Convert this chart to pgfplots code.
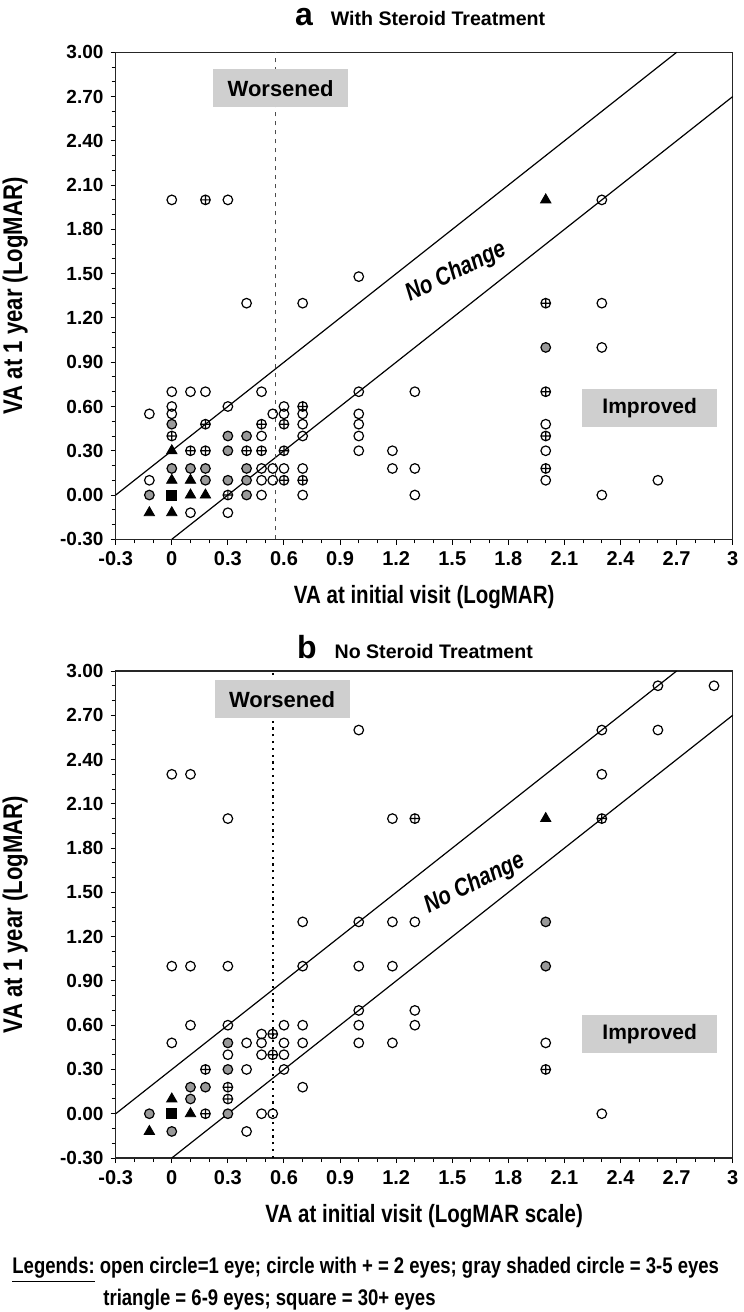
\documentclass[border=0pt]{standalone}
\usepackage{fontspec}
\setmainfont{Liberation Sans}
\setsansfont{Liberation Sans}
\newfontfamily\narrowfont[FakeStretch=0.82]{Liberation Sans}
\usepackage{pgfplots}
\pgfplotsset{compat=1.18}

\definecolor{shade}{HTML}{999999}
\definecolor{boxgray}{HTML}{CFCFCF}

\tikzset{region/.style={fill=boxgray, inner sep=0pt, minimum width=67.5pt, minimum height=19pt}}

\pgfplotsset{
  vaplot/.style={
    scale only axis, width=308.5pt, height=243.5pt,
    anchor=north west, clip=false,
    xmin=-0.3, xmax=3, ymin=-0.3, ymax=3,
    xtick={-0.3,0,0.3,0.6,0.9,1.2,1.5,1.8,2.1,2.4,2.7,3},
    xticklabels={-0.3,0,0.3,0.6,0.9,1.2,1.5,1.8,2.1,2.4,2.7,3},
    ytick={-0.3,0,0.3,0.6,0.9,1.2,1.5,1.8,2.1,2.4,2.7,3},
    yticklabels={-0.30,0.00,0.30,0.60,0.90,1.20,1.50,1.80,2.10,2.40,2.70,3.00},
    minor tick num=2,
    tick align=outside, xtick pos=bottom, ytick pos=left,
    major tick length=2.6pt, minor tick length=2pt,
    tick style={black, line width=0.5pt},
    axis line style={black!85, line width=0.6pt},
    /pgf/number format/assume math mode=true,
    xticklabel style={font=\bfseries\fontsize{10}{10}\selectfont},
    yticklabel style={font=\bfseries\fontsize{9.5}{9.5}\selectfont},
    xlabel style={at={(axis description cs:0.5,-0.1185)}, anchor=center,
      font=\narrowfont\bfseries\fontsize{12.5}{12.5}\selectfont},
    ylabel style={at={(axis description cs:-0.163,0.5)}, anchor=center,
      font=\narrowfont\bfseries\fontsize{13.5}{13.5}\selectfont},
    ylabel={VA at 1 year (LogMAR)},
  },
  one/.style={only marks, mark=o, mark size=2.4pt, mark options={black, line width=0.6pt}},
  two/.style={only marks, mark=oplus, mark size=2.4pt, mark options={black, line width=0.6pt}},
  three/.style={only marks, mark=*, mark size=2.4pt, mark options={draw=black, fill=shade, line width=0.6pt}},
  six/.style={only marks, mark=triangle*, mark size=3pt, mark options={black, line width=0.4pt}},
  thirty/.style={only marks, mark=square*, mark size=2.5pt, mark options={black}},
  diag/.style={black, line width=0.6pt},
}

\begin{document}
\begin{tikzpicture}
\useasboundingbox (0,0) rectangle (372pt,-656pt);

% ---- a: with steroid treatment ----
\node[anchor=base west] at (144pt,-12.5pt)
  {{\fontsize{16}{16}\selectfont\bfseries a}\hspace{9pt}{\fontsize{9.8}{9.8}\selectfont\bfseries With Steroid Treatment}};
\begin{axis}[vaplot, at={(57.85pt,-26.15pt)}, xlabel={VA at initial visit (LogMAR)}]
\addplot[diag] coordinates {(-0.3,0) (2.7,3)};
\addplot[diag] coordinates {(0,-0.3) (3,2.7)};
\addplot[black!70, line width=0.5pt, dash pattern=on 2pt off 2.5pt] coordinates {(0.556,-0.3) (0.556,3)};
\node[region, font=\bfseries\fontsize{11}{11}\selectfont] at (axis cs:0.582,2.755) {Worsened};
\node[region, font=\bfseries\fontsize{10.5}{10.5}\selectfont] at (axis cs:2.556,0.588) {Improved};
\node[rotate=26, font=\narrowfont\bfseries\itshape\fontsize{12.5}{12.5}\selectfont] at (axis cs:1.52,1.51) {No Change};
\addplot[one] coordinates {
 (-0.12,0.55) (-0.12,0.10)
 (0,2.00) (0,0.70) (0,0.60) (0,0.55)
 (0.10,0.70) (0.10,-0.12) (0.18,0.70)
 (0.30,2.00) (0.30,0.60) (0.30,-0.12) (0.40,1.30)
 (0.48,0.70) (0.48,0.40) (0.48,0.18) (0.48,0.10) (0.48,0.00)
 (0.54,0.55) (0.54,0.18) (0.54,0.10)
 (0.60,0.60) (0.60,0.55) (0.60,0.18)
 (0.70,1.30) (0.70,0.55) (0.70,0.48) (0.70,0.40) (0.70,0.18) (0.70,0.00)
 (1.00,1.48) (1.00,0.70) (1.00,0.55) (1.00,0.48) (1.00,0.40) (1.00,0.30)
 (1.18,0.30) (1.18,0.18)
 (1.30,0.70) (1.30,0.18) (1.30,0.00)
 (2.00,0.48) (2.00,0.30) (2.00,0.10)
 (2.30,2.00) (2.30,1.30) (2.30,1.00) (2.30,0.00)
 (2.60,0.10)};
\addplot[two] coordinates {
 (0,0.40) (0.10,0.30) (0.18,2.00) (0.18,0.48) (0.18,0.30)
 (0.30,0.00) (0.40,0.30) (0.48,0.48) (0.48,0.30)
 (0.60,0.48) (0.60,0.30) (0.60,0.10) (0.70,0.60) (0.70,0.10)
 (2.00,1.30) (2.00,0.70) (2.00,0.40) (2.00,0.18)};
\addplot[three] coordinates {
 (-0.12,0.00) (0,0.48) (0,0.18) (0.10,0.18) (0.18,0.18) (0.18,0.10)
 (0.30,0.40) (0.30,0.30) (0.30,0.10)
 (0.40,0.40) (0.40,0.18) (0.40,0.10) (0.40,0.00) (2.00,1.00)};
\addplot[six] coordinates {
 (-0.12,-0.12) (0,0.30) (0,0.10) (0,-0.12) (0.10,0.10) (0.10,0.00) (0.18,0.00) (2.00,2.00)};
\addplot[thirty] coordinates {(0,0)};
\end{axis}

% ---- b: no steroid treatment ----
\node[anchor=base west] at (145pt,-329pt)
  {{\fontsize{16}{16}\selectfont\bfseries b}\hspace{9pt}{\fontsize{9.8}{9.8}\selectfont\bfseries No Steroid Treatment}};
\begin{axis}[vaplot, at={(57.85pt,-335.5pt)}, xlabel={VA at initial visit (LogMAR scale)}]
\addplot[diag] coordinates {(-0.3,0) (2.7,3)};
\addplot[diag] coordinates {(0,-0.3) (3,2.7)};
\addplot[black, line width=0.9pt, dash pattern=on 1.1pt off 2.3pt] coordinates {(0.542,-0.3) (0.542,3)};
\node[region, font=\bfseries\fontsize{11}{11}\selectfont] at (axis cs:0.59,2.808) {Worsened};
\node[region, font=\bfseries\fontsize{10.5}{10.5}\selectfont] at (axis cs:2.556,0.54) {Improved};
\node[rotate=26, font=\narrowfont\bfseries\itshape\fontsize{12.5}{12.5}\selectfont] at (axis cs:1.62,1.56) {No Change};
\addplot[one] coordinates {
 (0,2.30) (0.10,2.30) (0.30,2.00)
 (0,1.00) (0.10,1.00) (0.30,1.00)
 (0,0.48) (0.10,0.60) (0.30,0.60) (0.30,0.40)
 (0.40,0.48) (0.40,0.30) (0.40,-0.12)
 (0.48,0.54) (0.48,0.48) (0.48,0.40) (0.48,0.00) (0.54,0.00)
 (0.60,0.60) (0.60,0.48) (0.60,0.40) (0.60,0.30)
 (0.70,1.30) (0.70,1.00) (0.70,0.60) (0.70,0.48) (0.70,0.18)
 (1.00,2.60) (1.00,1.30) (1.00,1.00) (1.00,0.70) (1.00,0.60) (1.00,0.48)
 (1.18,2.00) (1.18,1.30) (1.18,1.00) (1.18,0.48)
 (1.30,1.30) (1.30,0.70) (1.30,0.60)
 (2.00,0.48)
 (2.30,2.60) (2.30,2.30) (2.30,0.00)
 (2.60,2.90) (2.60,2.60) (2.90,2.90)};
\addplot[two] coordinates {
 (0.18,0.30) (0.18,0.00) (0.30,0.18) (0.30,0.10) (0.54,0.54) (0.54,0.40)
 (1.30,2.00) (2.30,2.00) (2.00,0.30)};
\addplot[three] coordinates {
 (-0.12,0.00) (0,-0.12) (0.10,0.18) (0.10,0.10) (0.18,0.18)
 (0.30,0.48) (0.30,0.30) (0.30,0.00) (2.00,1.30) (2.00,1.00)};
\addplot[six] coordinates {(-0.12,-0.12) (0,0.10) (0.10,0.00) (2.00,2.00)};
\addplot[thirty] coordinates {(0,0)};
\end{axis}

% ---- key to the symbols ----
\node[anchor=west, inner sep=0pt, font=\narrowfont\bfseries\fontsize{11.3}{11.3}\selectfont] at (6pt,-635pt)
  {\underline{Legends:} open circle=1 eye; circle with + = 2 eyes; gray shaded circle = 3-5 eyes};
\node[anchor=west, inner sep=0pt, font=\narrowfont\bfseries\fontsize{11.3}{11.3}\selectfont] at (51.5pt,-650pt)
  {triangle = 6-9 eyes; square = 30+ eyes};
\end{tikzpicture}
\end{document}
